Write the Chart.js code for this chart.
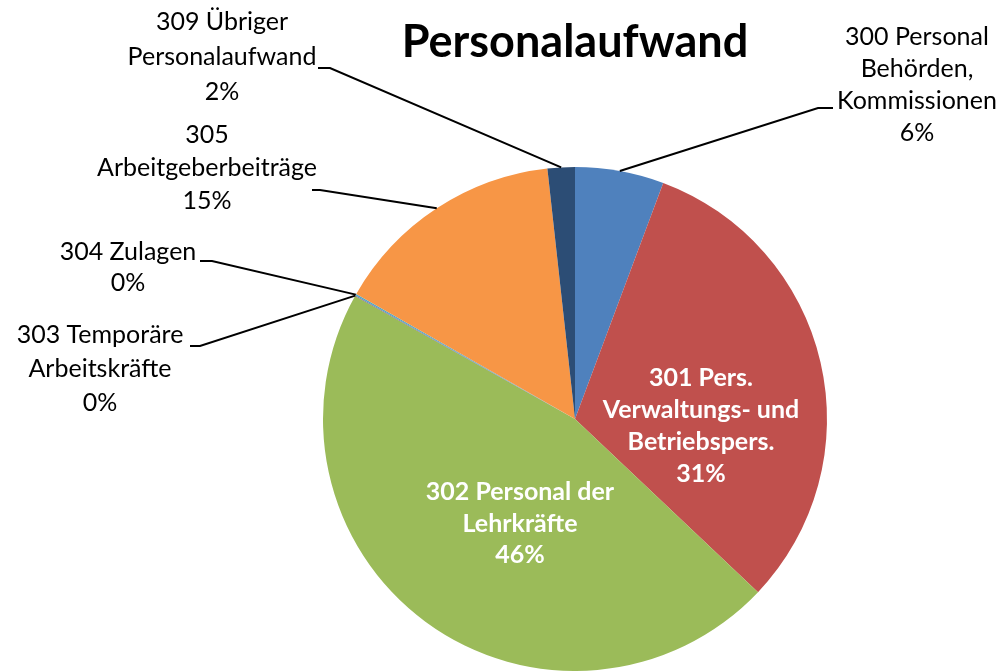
<!DOCTYPE html>
<html>
<head>
<meta charset="utf-8">
<script src="https://cdn.jsdelivr.net/npm/chart.js@4/dist/chart.umd.min.js"></script>
<style>
  html, body { margin: 0; padding: 0; background: #fff; }
  #wrap { width: 997px; height: 671px; position: relative; }
</style>
</head>
<body>
<div id="wrap"><canvas id="pie"></canvas></div>
<script>
// Data (share of personnel costs, in percent)
const categories = [
  ['300 Personal', 'Behörden,', 'Kommissionen'],
  ['301 Pers.', 'Verwaltungs- und', 'Betriebspers.'],
  ['302 Personal der', 'Lehrkräfte'],
  ['303 Temporäre', 'Arbeitskräfte'],
  ['304 Zulagen'],
  ['305', 'Arbeitgeberbeiträge'],
  ['309 Übriger', 'Personalaufwand']
];
const values = [5.7, 31.4, 46.1, 0.05, 0.1, 15.0, 1.75];
const colors = ['#4f81bd', '#c0504d', '#9bbb59', '#8064a2', '#4bacc6', '#f79646', '#2c4d75'];
const chartTitle = 'Personalaufwand';

// where each label block sits (centre x, first line y) and its leader stub
const labelLayout = [
  { x: 917, y: 37, gap: 32, stub: [833, 108, 818, 108] },
  { x: 701, y: 378, gap: 32, inside: true },
  { x: 520, y: 492, gap: 31.5, inside: true },
  { x: 100, y: 335, gap: 34, stub: [190, 346, 200, 346] },
  { x: 128, y: 252, gap: 31, stub: [200, 261, 212, 261] },
  { x: 207, y: 135, gap: 33, stub: [312, 190, 320, 190] },
  { x: 222, y: 22, gap: 35, stub: [318, 68, 330, 68] }
];

const total = values.reduce((a, b) => a + b, 0);
const pct = v => Math.round(v / total * 100) + '%';

const labelPlugin = {
  id: 'pieLabels',
  afterDatasetsDraw(chart) {
    const ctx = chart.ctx;
    const meta = chart.getDatasetMeta(0);
    ctx.save();
    ctx.textAlign = 'center';
    ctx.textBaseline = 'middle';

    // title
    ctx.fillStyle = '#000';
    ctx.font = 'bold 45px Lato';
    ctx.fillText(chartTitle, 575, 42);

    meta.data.forEach((arc, i) => {
      const lay = labelLayout[i];
      const lines = categories[i].concat([pct(values[i])]);
      if (lay.inside) {
        ctx.fillStyle = '#fff';
        ctx.font = 'bold 25px Lato';
      } else {
        ctx.fillStyle = '#000';
        ctx.font = '25px Lato';
        // leader line to the middle of the slice edge
        const p = arc.getProps(['x', 'y', 'startAngle', 'endAngle', 'outerRadius'], true);
        const mid = (p.startAngle + p.endAngle) / 2;
        const ex = p.x + Math.cos(mid) * p.outerRadius;
        const ey = p.y + Math.sin(mid) * p.outerRadius;
        ctx.strokeStyle = '#000';
        ctx.lineWidth = 2;
        ctx.beginPath();
        ctx.moveTo(lay.stub[0], lay.stub[1]);
        ctx.lineTo(lay.stub[2], lay.stub[3]);
        ctx.lineTo(ex, ey);
        ctx.stroke();
      }
      lines.forEach((t, k) => ctx.fillText(t, lay.x, lay.y + k * lay.gap));
    });
    ctx.restore();
  }
};

new Chart(document.getElementById('pie'), {
  type: 'pie',
  data: {
    labels: categories.map(c => c.join(' ')),
    datasets: [{
      data: values,
      backgroundColor: colors,
      borderWidth: 0,
      radius: 252
    }]
  },
  options: {
    responsive: true,
    maintainAspectRatio: false,
    animation: false,
    layout: { padding: { top: 167, bottom: 0, left: 323, right: 170 } },
    plugins: {
      legend: { display: false },
      tooltip: { enabled: false },
      title: { display: false }
    }
  },
  plugins: [labelPlugin]
});
</script>
</body>
</html>
